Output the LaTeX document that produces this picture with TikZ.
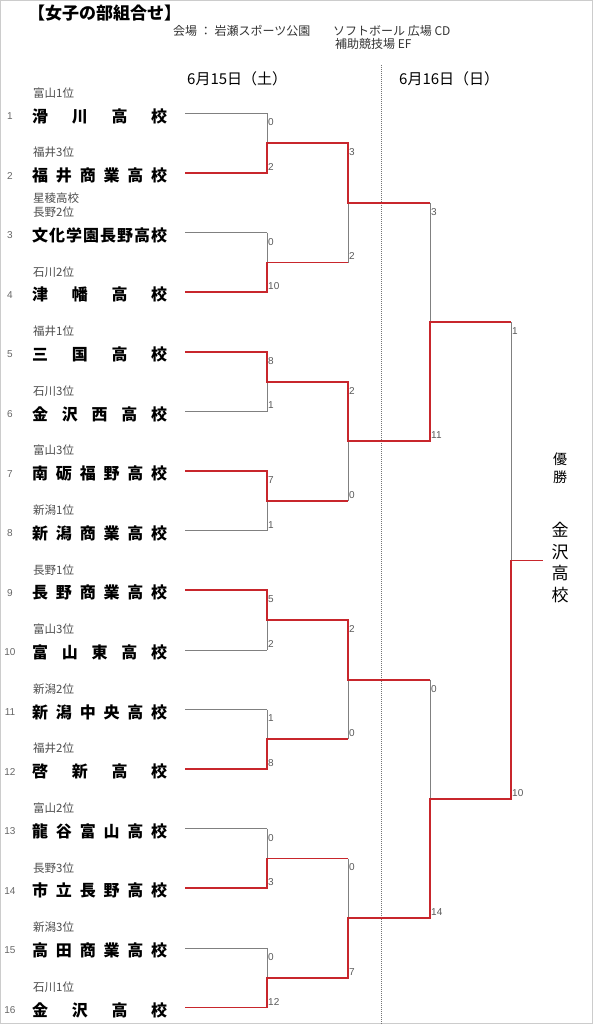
\documentclass[tikz,border=0pt]{standalone}
\usepackage{fontspec}
\setmainfont{Liberation Sans}
\newfontfamily\cjk{Noto Sans CJK JP}
\usetikzlibrary{calc}

\definecolor{winred}{RGB}{200,38,44}
\definecolor{linegray}{RGB}{128,128,128}

\newcommand{\school}[1]{{\spaceskip=0.01pt plus 1fil\makebox[135pt][s]{#1}}}

\begin{document}
\begin{tikzpicture}[x=1pt, y=-1pt,
  team/.style={anchor=west, inner sep=0pt, font=\cjk\bfseries\fontsize{16}{16}\selectfont},
  seed/.style={anchor=west, inner sep=0pt, text=black!70, font=\cjk\fontsize{11.5}{12}\selectfont},
  rownum/.style={inner sep=0pt, text=black!60, font=\fontsize{10}{10}\selectfont},
  score/.style={anchor=west, inner sep=1pt, text=black!65, font=\fontsize{10}{10}\selectfont},
  scoretop/.style={score, yshift=-9pt},
  scorebot/.style={score, yshift=6pt},
  lose/.style={draw=linegray, line width=0.6pt},
  win/.style={draw=winred, line width=1.7pt, line join=miter}]
\useasboundingbox (0,0) rectangle (593,1024);
\draw[black!20, line width=0.8pt] (0.5,0.5) rectangle (592.5,1023.5);

% header
\node[anchor=west, inner sep=0pt, font=\cjk\bfseries\fontsize{17}{17}\selectfont] (title) at (28,13) {【女子の部組合せ】};
\node[anchor=west, inner sep=0pt, text=black!80, font=\cjk\fontsize{12}{12}\selectfont] (venue) at (173,31) {会場 ：\ 岩瀬スポーツ公園};
\node[anchor=west, inner sep=0pt, text=black!80, font=\cjk\fontsize{12}{12}\selectfont] (field1) at (333,31) {ソフトボール 広場 CD};
\node[anchor=west, inner sep=0pt, text=black!80, font=\cjk\fontsize{12}{12}\selectfont] (field2) at (335,44) {補助競技場 EF};
\node[anchor=west, inner sep=0pt, font=\cjk\fontsize{15}{15}\selectfont] (day1) at (187,79) {6月15日（土）};
\node[anchor=west, inner sep=0pt, font=\cjk\fontsize{15}{15}\selectfont] (day2) at (399,79) {6月16日（日）};
\coordinate (d1) at (381,65);
\coordinate (d2) at (381,1024);
\draw[black!55, line width=0.5pt, dash pattern=on 1pt off 1pt] (d1) -- (d2);

% teams
\foreach \i/\nm/\sd in {1/滑 川 高 校/富山1位, 2/福 井 商 業 高 校/福井3位,
    3/文 化 学 園 長 野 高 校/長野2位, 4/津 幡 高 校/石川2位,
    5/三 国 高 校/福井1位, 6/金 沢 西 高 校/石川3位,
    7/南 砺 福 野 高 校/富山3位, 8/新 潟 商 業 高 校/新潟1位,
    9/長 野 商 業 高 校/長野1位, 10/富 山 東 高 校/富山3位,
    11/新 潟 中 央 高 校/新潟2位, 12/啓 新 高 校/福井2位,
    13/龍 谷 富 山 高 校/富山2位, 14/市 立 長 野 高 校/長野3位,
    15/高 田 商 業 高 校/新潟3位, 16/金 沢 高 校/石川1位} {
  \coordinate (L\i) at (185,{113.5+(\i-1)*59.6});
  \coordinate (R\i) at (267,{113.5+(\i-1)*59.6});
  \node[rownum] (n\i) at (10,{116+(\i-1)*59.6}) {\i};
  \node[team] (T\i) at (32,{116+(\i-1)*59.6}) {\school{\nm}};
  \node[seed] (g\i) at (33,{93+(\i-1)*59.6}) {\sd};
}
\node[seed] (g3b) at (33,198) {星稜高校};

% match points
\foreach \k in {1,...,8} {
  \coordinate (M\k) at (267,{113.5+(2*\k-1.5)*59.6});
  \coordinate (N\k) at (348,{113.5+(2*\k-1.5)*59.6});
}
\foreach \k in {1,...,4} {
  \coordinate (O\k) at (348,{113.5+(4*\k-2.5)*59.6});
  \coordinate (P\k) at (430,{113.5+(4*\k-2.5)*59.6});
}
\foreach \k in {1,2} {
  \coordinate (Q\k) at (430,{113.5+(8*\k-4.5)*59.6});
  \coordinate (U\k) at (511,{113.5+(8*\k-4.5)*59.6});
}
\coordinate (F) at (511,{113.5+7.5*59.6});
\coordinate (W) at (543,{113.5+7.5*59.6});

% bracket lines
\foreach \i in {1,...,16} \draw[lose] (L\i) -- (R\i);
\foreach \k in {1,...,8} \draw[lose] (M\k) -- (N\k);
\foreach \k in {1,...,4} \draw[lose] (O\k) -- (P\k);
\foreach \a/\b in {R1/R2, R3/R4, R5/R6, R7/R8, R9/R10, R11/R12, R13/R14, R15/R16,
    N1/N2, N3/N4, N5/N6, N7/N8, P1/P2, P3/P4, U1/U2, Q1/U1, Q2/U2}
  \draw[lose] (\a) -- (\b);

% winners
\draw[win] (L2) -- (R2) -- (M1) -- (N1) -- (O1) -- (P1);
\draw[win] (L4) -- (R4) -- (M2) -- (N2);
\draw[win] (L5) -- (R5) -- (M3) -- (N3) -- (O2) -- (P2) -- (Q1) -- (U1);
\draw[win] (L7) -- (R7) -- (M4) -- (N4);
\draw[win] (L9) -- (R9) -- (M5) -- (N5) -- (O3) -- (P3);
\draw[win] (L12) -- (R12) -- (M6) -- (N6);
\draw[win] (L14) -- (R14) -- (M7) -- (N7);
\draw[win] (L16) -- (R16) -- (M8) -- (N8) -- (O4) -- (P4) -- (Q2) -- (U2) -- (F) -- (W);

% scores
\foreach \a/\b/\s/\t [count=\c] in {R1/R2/0/2, R3/R4/0/10, R5/R6/8/1, R7/R8/7/1,
    R9/R10/5/2, R11/R12/1/8, R13/R14/0/3, R15/R16/0/12,
    N1/N2/3/2, N3/N4/2/0, N5/N6/2/0, N7/N8/0/7, P1/P2/3/11, P3/P4/0/14, U1/U2/1/10} {
  \node[scoretop] (st\c) at (\a) {\s};
  \node[scorebot] (sb\c) at (\b) {\t};
}

% champion
\node[align=center, inner sep=0pt, font=\cjk\fontsize{14}{18}\selectfont] (champ) at (560,468) {優\\勝};
\node[align=center, inner sep=0pt, font=\cjk\fontsize{17}{21.7}\selectfont] (winner) at (560,562.5) {金\\沢\\高\\校};
\end{tikzpicture}
\end{document}
